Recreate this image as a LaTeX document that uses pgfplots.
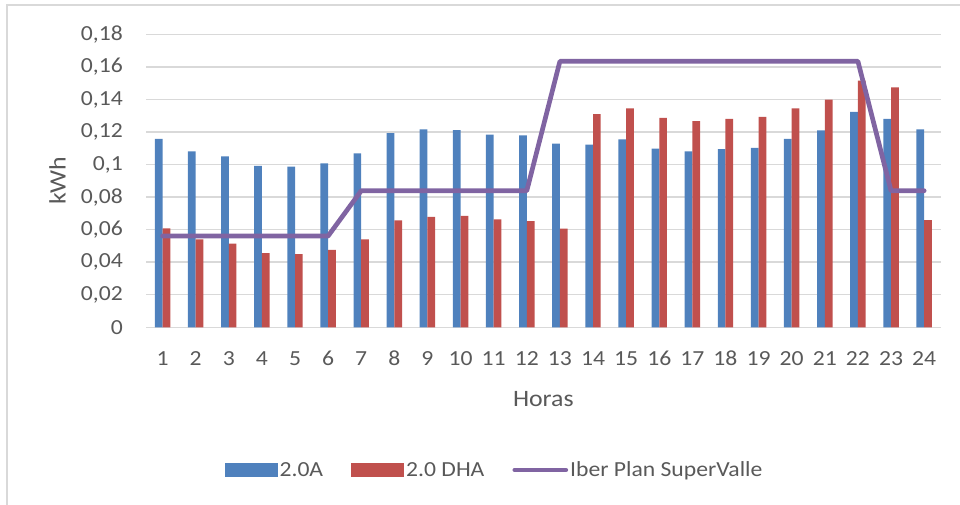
\documentclass[border=0pt]{standalone}
\usepackage{pgfplots}
\pgfplotsset{compat=1.18}
\usepackage{pgfplotstable}
\usepackage{fontspec}
\setmainfont{Carlito}[FakeStretch=1.1]
\definecolor{cblue}{HTML}{4F81BD}
\definecolor{cred}{HTML}{C0504D}
\definecolor{cpurp}{HTML}{8064A2}
\definecolor{cgrid}{HTML}{D9D9D9}
\definecolor{txt}{HTML}{595959}
\pgfplotstableread{
h a dha iber
1 0.1157 0.0608 0.0561
2 0.1081 0.0540 0.0561
3 0.1050 0.0514 0.0561
4 0.0991 0.0455 0.0561
5 0.0987 0.0450 0.0561
6 0.1007 0.0475 0.0561
7 0.1069 0.0540 0.0839
8 0.1193 0.0657 0.0839
9 0.1216 0.0679 0.0839
10 0.1212 0.0684 0.0839
11 0.1183 0.0663 0.0839
12 0.1179 0.0653 0.0839
13 0.1128 0.0606 0.1634
14 0.1122 0.1310 0.1634
15 0.1155 0.1345 0.1634
16 0.1097 0.1286 0.1634
17 0.1081 0.1267 0.1634
18 0.1095 0.1281 0.1634
19 0.1103 0.1292 0.1634
20 0.1157 0.1345 0.1634
21 0.1210 0.1398 0.1634
22 0.1323 0.1515 0.1634
23 0.1280 0.1474 0.0839
24 0.1216 0.0659 0.0839
}\data
\begin{document}
\begin{tikzpicture}[x=1pt,y=1pt]
\useasboundingbox (0,0) rectangle (960,504);
\draw[cgrid, line width=1.5pt] (7,-20) -- (7,499) -- (980,499);
\begin{axis}[
  at={(146pt,176.7pt)}, anchor=south west,
  scale only axis, width=794.7pt, height=293pt,
  xmin=0.5, xmax=24.5, ymin=0, ymax=0.18,
  clip=false,
  /pgf/number format/assume math mode=true,
  axis line style={draw=none},
  tick style={draw=none}, major tick length=0pt,
  xtick={1,...,24},
  ytick={0,0.02,0.04,0.06,0.08,0.1,0.12,0.14,0.16,0.18},
  yticklabels={0,{0,02},{0,04},{0,06},{0,08},{0,1},{0,12},{0,14},{0,16},{0,18}},
  ymajorgrids, grid style={cgrid, line width=1.5pt},
  ticklabel style={font=\fontsize{21.5}{25}\selectfont, text=txt},
  yticklabel style={anchor=east, inner sep=0pt, xshift=-23pt},
  xticklabel style={anchor=base, inner sep=0pt, yshift=-38.3pt},
  xlabel={Horas},
  xlabel style={at={(axis description cs:0.5,-0.2184)}, anchor=north, inner sep=0pt, font=\fontsize{23.5}{27}\selectfont, text=txt},
  ylabel={kWh},
  ylabel style={at={(axis description cs:-0.1114,0.5)}, anchor=center, inner sep=0pt, font=\fontsize{23.5}{27}\selectfont, text=txt},
  legend columns=3,
  legend style={at={(axis description cs:0.4385,-0.487)}, anchor=center, draw=none, fill=none,
    font=\fontsize{21.5}{25}\selectfont, text=txt,
    nodes={inner sep=2pt},
    /tikz/every even column/.append style={column sep=26pt}},
]
\addplot[ybar, bar width=0.233, bar shift=-0.1165, fill=cblue, draw=none,
  legend image code/.code={\fill[cblue] (0pt,-7pt) rectangle (53pt,7pt);}]
  table[x=h,y=a]{\data};
\addlegendentry{2.0A}
\addplot[ybar, bar width=0.233, bar shift=0.1165, fill=cred, draw=none,
  legend image code/.code={\fill[cred] (0pt,-7pt) rectangle (53pt,7pt);}]
  table[x=h,y=dha]{\data};
\addlegendentry{2.0 DHA}
\addplot[cpurp, line width=4.7pt, line join=round, line cap=round, sharp plot, mark=none,
  legend image code/.code={\draw[cpurp, line width=4.7pt, line cap=round] (2pt,0pt) -- (53pt,0pt);}]
  table[x=h,y=iber]{\data};
\addlegendentry{Iber Plan SuperValle}
\end{axis}
\end{tikzpicture}
\end{document}
